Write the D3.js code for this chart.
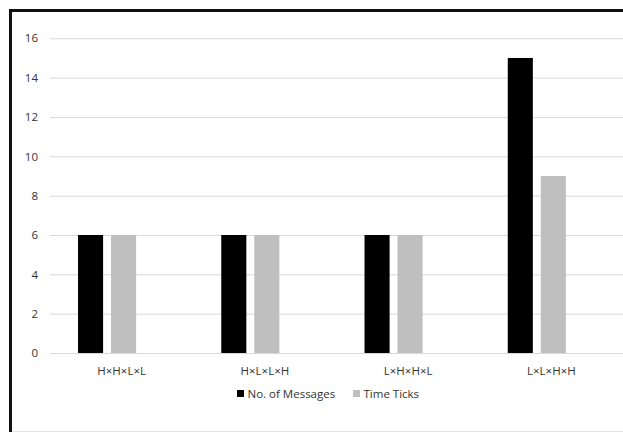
<!DOCTYPE html>
<html>
<head>
<meta charset="utf-8">
<script src="https://cdn.jsdelivr.net/npm/d3@7"></script>
<style>
  html, body { margin: 0; padding: 0; background: #fff; }
  svg { display: block; }
  text { font-family: "Open Sans", "DejaVu Sans", sans-serif; fill: #333; }
</style>
</head>
<body>
<div id="chart"></div>
<script>
// Categories and series values
const categories = ["H×H×L×L", "H×L×L×H", "L×H×H×L", "L×L×H×H"];
const seriesNames = ["No. of Messages", "Time Ticks"];
const messages = [6, 6, 6, 15];
const timeTicks = [6, 6, 6, 9];
const yTicks = [0, 2, 4, 6, 8, 10, 12, 14, 16];
const seriesColors = ["#000000", "#bfbfbf"];

const W = 623, H = 432;
const plot = { left: 50, right: 623, top: 38.3, bottom: 353 };
const fontSize = 11.5;

const svg = d3.select("#chart").append("svg")
  .attr("width", W).attr("height", H);

// Outer frame: heavy left and top edges, faint bottom edge
svg.append("line").attr("x1", 10.5).attr("x2", 10.5).attr("y1", 9.5).attr("y2", H)
  .attr("stroke", "#111").attr("stroke-width", 3);
svg.append("line").attr("x1", 9).attr("x2", W).attr("y1", 10.5).attr("y2", 10.5)
  .attr("stroke", "#111").attr("stroke-width", 3);
svg.append("line").attr("x1", 12).attr("x2", W).attr("y1", 431.5).attr("y2", 431.5)
  .attr("stroke", "#e3e3e3").attr("stroke-width", 1);

const x0 = d3.scaleBand().domain(categories).range([plot.left, plot.right]).padding(0);
// Bars sit left of the category centre
const x1 = d3.scaleBand().domain(seriesNames).range([0, x0.bandwidth()])
  .paddingInner(0.24).paddingOuter(1.29).align(0.329);
const y = d3.scaleLinear().domain([0, 16]).range([plot.bottom, plot.top]);

// Gridlines and y tick labels
const yAxis = d3.axisLeft(y).tickValues(yTicks).tickSize(0).tickPadding(0).tickFormat(d3.format("d"));
const gy = svg.append("g").attr("transform", `translate(${plot.left},0)`).call(yAxis);
gy.select(".domain").remove();
gy.selectAll(".tick line").attr("x2", plot.right - plot.left).attr("stroke", "#d9d9d9").attr("stroke-width", 1);
gy.selectAll(".tick text").attr("x", -12).attr("font-size", fontSize).attr("fill", "#333")
  .style("font-family", "'Open Sans', sans-serif");

// Bars
const values = [messages, timeTicks];
const rows = categories.map((c, i) => ({ cat: c, vals: seriesNames.map((s, k) => ({ s, k, v: values[k][i] })) }));
const groups = svg.append("g").selectAll("g").data(rows).join("g")
  .attr("transform", d => `translate(${x0(d.cat)},0)`);
groups.selectAll("rect").data(d => d.vals).join("rect")
  .attr("x", d => x1(d.s))
  .attr("width", x1.bandwidth())
  .attr("y", d => y(d.v))
  .attr("height", d => y(0) - y(d.v))
  .attr("fill", d => seriesColors[d.k]);

// Category labels
const xAxis = d3.axisBottom(x0).tickSize(0).tickPadding(0);
const gx = svg.append("g").attr("transform", `translate(0,${plot.bottom})`).call(xAxis);
gx.select(".domain").remove();
gx.selectAll(".tick text").attr("dy", 0).attr("y", 22).attr("font-size", fontSize).attr("fill", "#333")
  .style("font-family", "'Open Sans', sans-serif");

// Legend
const legend = svg.append("g").attr("transform", "translate(237,397.5)");
const items = [{ name: seriesNames[0], color: seriesColors[0], x: 0 }, { name: seriesNames[1], color: seriesColors[1], x: 116 }];
const li = legend.selectAll("g").data(items).join("g").attr("transform", d => `translate(${d.x},0)`);
li.append("rect").attr("x", 0).attr("y", -7.5).attr("width", 7).attr("height", 7).attr("fill", d => d.color);
li.append("text").attr("x", 10.5).attr("y", 0).attr("font-size", fontSize).text(d => d.name);
</script>
</body>
</html>
